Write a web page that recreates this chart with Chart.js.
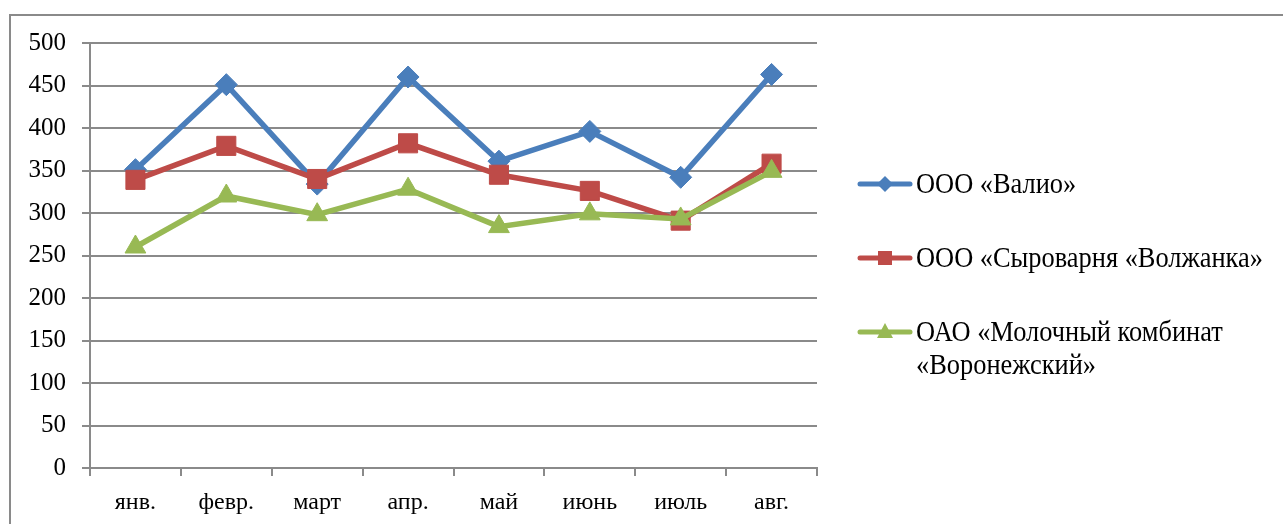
<!DOCTYPE html>
<html>
<head>
<meta charset="utf-8">
<script src="https://cdn.jsdelivr.net/npm/chart.js@4/dist/chart.umd.min.js"></script>
<style>
  html, body { margin: 0; padding: 0; background: #fff; }
  #wrap { width: 1283px; height: 524px; position: relative; }
</style>
</head>
<body>
<div id="wrap"><canvas id="lineChart"></canvas></div>
<script>
const months = ["янв.", "февр.", "март", "апр.", "май", "июнь", "июль", "авг."];
const valio = [351, 451, 334, 460, 361, 396, 342, 463];
const volzhanka = [339, 379, 340, 382, 345, 326, 291, 358];
const voronezh = [260, 320, 298, 328, 284, 299, 293, 349];
const seriesNames = [
  "ООО «Валио»",
  "ООО «Сыроварня «Волжанка»",
  ["ОАО «Молочный комбинат", "«Воронежский»"]
];

const FONT = "'Liberation Serif', 'Times New Roman', serif";
const GRID = "#8a8a8a";

// outer frame + legend drawn by hand
const framePlugin = {
  id: "frame",
  beforeDraw(chart) {
    const ctx = chart.ctx;
    ctx.save();
    ctx.strokeStyle = GRID;
    ctx.lineWidth = 2;
    ctx.strokeRect(10, 15, 3000, 3000);
    ctx.restore();
  },
  afterDraw(chart) {
    const ctx = chart.ctx;
    const rows = [184, 258, 332];
    ctx.save();
    chart.data.datasets.forEach((ds, i) => {
      const y = rows[i];
      ctx.strokeStyle = ds.borderColor;
      ctx.lineWidth = 5;
      ctx.lineCap = "round";
      ctx.beginPath();
      ctx.moveTo(860, y);
      ctx.lineTo(910, y);
      ctx.stroke();
      ctx.fillStyle = ds.backgroundColor;
      const cx = 885;
      ctx.beginPath();
      if (ds.pointStyle === "rectRot") {
        ctx.moveTo(cx, y - 8); ctx.lineTo(cx + 8, y); ctx.lineTo(cx, y + 8); ctx.lineTo(cx - 8, y);
      } else if (ds.pointStyle === "rect") {
        ctx.rect(cx - 7, y - 7, 14, 14);
      } else {
        ctx.moveTo(cx, y - 9); ctx.lineTo(cx + 8, y + 6); ctx.lineTo(cx - 8, y + 6);
      }
      ctx.closePath();
      ctx.fill();
      ctx.fillStyle = "#000";
      ctx.font = "30px " + FONT;
      ctx.textBaseline = "middle";
      const lines = Array.isArray(seriesNames[i]) ? seriesNames[i] : [seriesNames[i]];
      lines.forEach((t, k) => {
        ctx.save();
        ctx.translate(916, y + 1 + k * 33);
        ctx.scale(0.88, 1);
        ctx.fillText(t, 0, 0);
        ctx.restore();
      });
    });
    ctx.restore();
  }
};

function makeSet(label, data, color, style, radius, order) {
  return {
    label: label,
    data: data,
    borderColor: color,
    backgroundColor: color,
    borderWidth: 5.5,
    pointStyle: style,
    pointRadius: radius,
    pointHoverRadius: radius,
    pointBorderWidth: 1,
    tension: 0,
    order: order
  };
}

new Chart(document.getElementById("lineChart"), {
  type: "line",
  data: {
    labels: months,
    datasets: [
      makeSet("ООО «Валио»", valio, "#4a7ebb", "rectRot", 11, 3),
      makeSet("ООО «Сыроварня «Волжанка»", volzhanka, "#be4b48", "rect", 13.5, 2),
      makeSet("ОАО «Молочный комбинат «Воронежский»", voronezh, "#98b954", "triangle", 12, 1)
    ]
  },
  options: {
    responsive: true,
    maintainAspectRatio: false,
    animation: false,
    layout: { padding: { left: 0, top: 43, right: 466, bottom: 0 } },
    plugins: {
      legend: { display: false },
      tooltip: { enabled: false }
    },
    scales: {
      x: {
        offset: true,
        afterFit(scale) { scale.height = 56; },
        grid: {
          offset: true,
          drawOnChartArea: false,
          drawTicks: true,
          tickLength: 8,
          color: GRID,
          lineWidth: 2
        },
        border: { display: true, color: GRID, width: 2 },
        ticks: {
          color: "#000",
          padding: 12,
          maxRotation: 0,
          font: { family: FONT, size: 24 }
        }
      },
      y: {
        min: 0,
        max: 500,
        afterFit(scale) { scale.width = 90; },
        ticks: {
          stepSize: 50,
          color: "#000",
          padding: 16,
          font: { family: FONT, size: 25 }
        },
        grid: {
          color: GRID,
          lineWidth: 2,
          tickLength: 8
        },
        border: { display: true, color: GRID, width: 2 }
      }
    }
  },
  plugins: [framePlugin]
});
</script>
</body>
</html>
